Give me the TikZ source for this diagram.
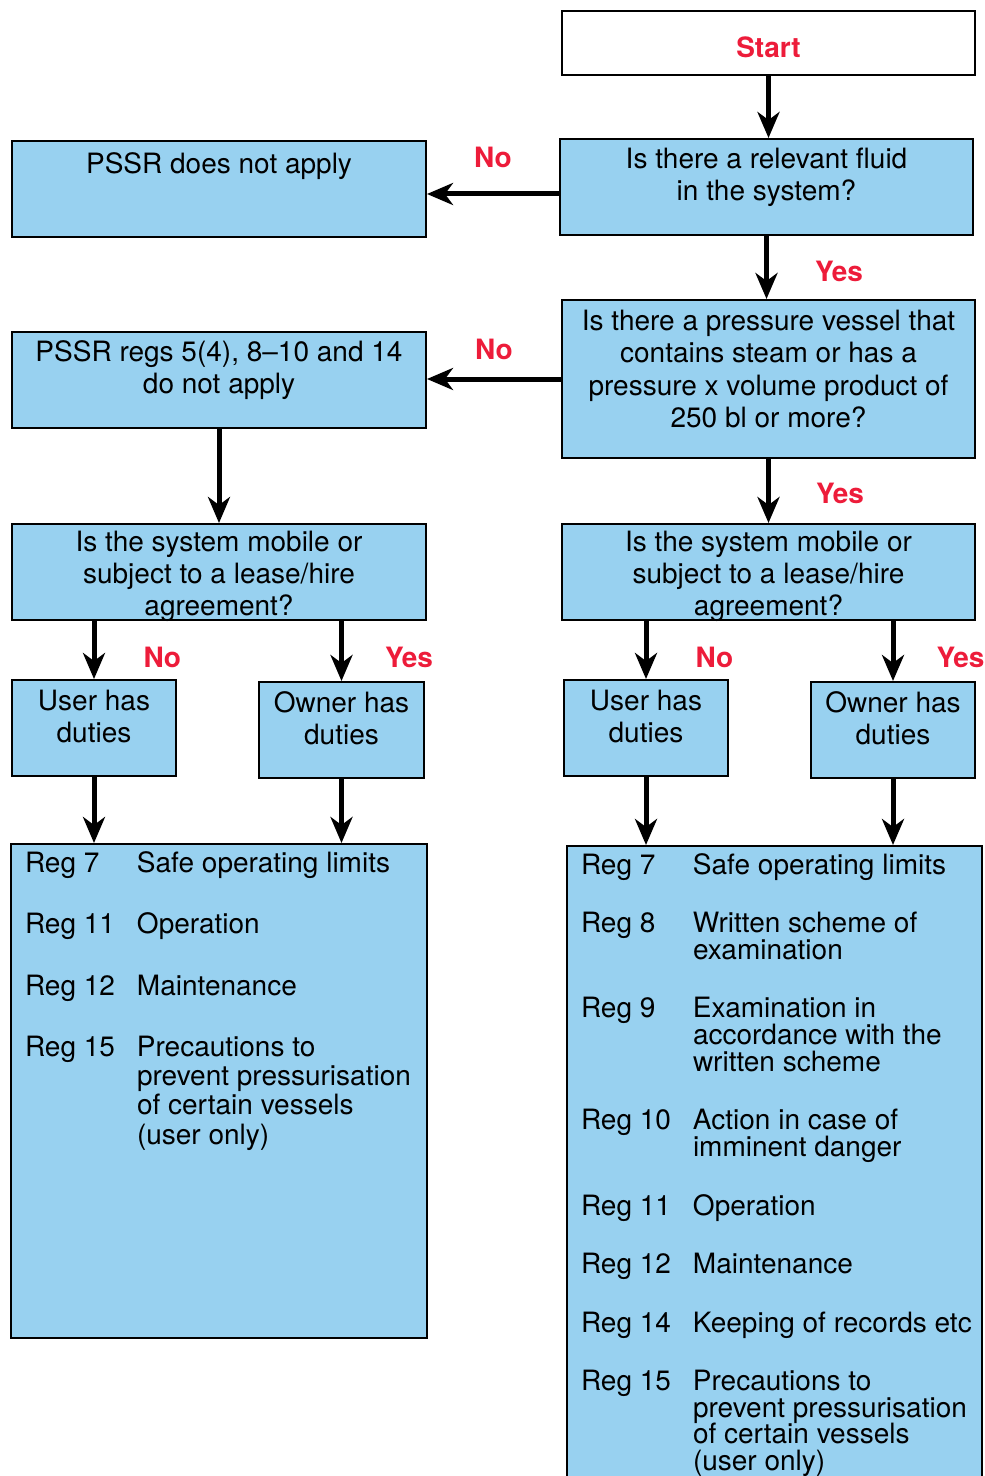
\documentclass[tikz,border=0pt]{standalone}
\usepackage{fontspec}
\setmainfont{TeX Gyre Heros}
\usetikzlibrary{arrows.meta}
\definecolor{pssrblue}{RGB}{152,209,240}
\definecolor{pssrred}{RGB}{237,28,58}
% box text hangs from the top edge: width, height, first baseline, text
\newcommand{\boxtext}[4]{\parbox[c][#2][t]{#1}{\centering\rule{0pt}{#3}#4}}
% list of regulations: width, height, gap between items, rows
\newcommand{\reglist}[4]{\parbox[c][#2][t]{#1}{\rule{0pt}{14pt}\hspace{7pt}\def\gap{\noalign{\vskip #3}}%
  \begin{tabular}[t]{@{}p{56pt}@{}p{144pt}@{}}#4\end{tabular}}}

\begin{document}
\begin{tikzpicture}[x=0.5pt, y=-0.5pt,
  box/.style={draw, fill=pssrblue, line width=1pt, inner sep=0pt, font=\fontsize{14}{16}\selectfont},
  arr/.style={-{Stealth[length=13pt, width=11pt, inset=4pt]}, line width=2.5pt},
  lbl/.style={inner sep=0pt, text=pssrred, font=\fontsize{14}{16}\selectfont\bfseries},
]
  \useasboundingbox (0,0) rectangle (984,1476);
  \clip (0,0) rectangle (984,1476);

  % right column of questions
  \node[box, fill=white, line width=1.3pt] (start) at (768.5,43) {\boxtext{206.5pt}{32pt}{23.5pt}{\textcolor{pssrred}{\bfseries Start}}};
  \node[box] (fluid) at (766.5,187) {\boxtext{206.5pt}{48pt}{15pt}{Is there a relevant fluid\\in the system?}};
  \node[box] (vessel) at (768.5,379) {\boxtext{206.5pt}{79pt}{15.5pt}{Is there a pressure vessel that\\contains steam or has a\\pressure x volume product of\\250 bl or more?}};
  \node[box] (rmobile) at (768.5,572) {\boxtext{206.5pt}{48pt}{13.5pt}{Is the system mobile or\\subject to a lease/hire\\agreement?}};

  % left column
  \node[box] (noapply) at (219,189) {\boxtext{207pt}{48pt}{16.5pt}{PSSR does not apply}};
  \node[box] (noregs) at (219,380) {\boxtext{207pt}{48pt}{15pt}{PSSR regs 5(4), 8--10 and 14\\do not apply}};
  \node[box] (lmobile) at (219,572) {\boxtext{207pt}{48pt}{13.5pt}{Is the system mobile or\\subject to a lease/hire\\agreement?}};

  % duty holders
  \node[box] (luser) at (94,728) {\boxtext{82pt}{48pt}{15pt}{User has\\duties}};
  \node[box] (lowner) at (341.5,730) {\boxtext{82.5pt}{48pt}{15pt}{Owner has\\duties}};
  \node[box] (ruser) at (646,728) {\boxtext{82pt}{48pt}{15pt}{User has\\duties}};
  \node[box] (rowner) at (893,730) {\boxtext{82pt}{48pt}{15pt}{Owner has\\duties}};

  % regulations that apply
  \node[box, font=\fontsize{14}{14.65}\selectfont] (llist) at (219,1091) {\reglist{208pt}{247pt}{16pt}{%
    Reg 7 & Safe operating limits \\ \gap
    Reg 11 & Operation \\ \gap
    Reg 12 & Maintenance \\ \gap
    Reg 15 & Precautions to\newline prevent pressurisation\newline of certain vessels\newline (user only)}};
  \node[box, font=\fontsize{14}{13.35}\selectfont] (rlist) at (774.5,1173) {\reglist{207.5pt}{327pt}{15pt}{%
    Reg 7 & Safe operating limits \\ \gap
    Reg 8 & Written scheme of\newline examination \\ \gap
    Reg 9 & Examination in\newline accordance with the\newline written scheme \\ \gap
    Reg 10 & Action in case of\newline imminent danger \\ \gap
    Reg 11 & Operation \\ \gap
    Reg 12 & Maintenance \\ \gap
    Reg 14 & Keeping of records etc \\ \gap
    Reg 15 & Precautions to\newline prevent pressurisation\newline of certain vessels\newline (user only)}};

  \draw[arr] (start.south) -- (start.south |- fluid.north);
  \draw[arr] ([yshift=-3.5pt]fluid.west) -- ([yshift=-3.5pt]fluid.west -| noapply.east) node[lbl, midway, above=12pt] {No};
  \draw[arr] (fluid.south) -- (fluid.south |- vessel.north) node[lbl, pos=0.57, right=23pt] {Yes};
  \draw[arr] (vessel.west) -- (vessel.west -| noregs.east) node[lbl, midway, above=8.5pt] {No};
  \draw[arr] (vessel.south) -- (vessel.south |- rmobile.north) node[lbl, pos=0.53, right=22.5pt] {Yes};
  \draw[arr] (noregs.south) -- (lmobile.north);

  \draw[arr] (luser.north |- lmobile.south) -- (luser.north) node[lbl, pos=0.62, right=23.5pt] {No};
  \draw[arr] (lowner.north |- lmobile.south) -- (lowner.north) node[lbl, pos=0.6, right=20.5pt] {Yes};
  \draw[arr] (ruser.north |- rmobile.south) -- (ruser.north) node[lbl, pos=0.62, right=23.5pt] {No};
  \draw[arr] (rowner.north |- rmobile.south) -- (rowner.north) node[lbl, pos=0.6, right=20.5pt] {Yes};

  \draw[arr] (luser.south) -- (luser.south |- llist.north);
  \draw[arr] (lowner.south) -- (lowner.south |- llist.north);
  \draw[arr] (ruser.south) -- (ruser.south |- rlist.north);
  \draw[arr] (rowner.south) -- (rowner.south |- rlist.north);
\end{tikzpicture}
\end{document}
